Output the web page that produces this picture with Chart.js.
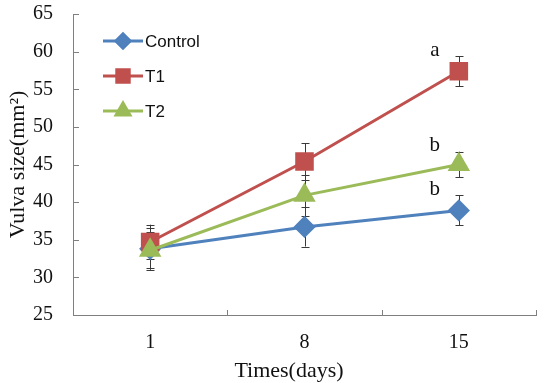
<!DOCTYPE html>
<html>
<head>
<meta charset="utf-8">
<script src="https://cdn.jsdelivr.net/npm/chart.js@4/dist/chart.umd.min.js"></script>
<style>
  html, body { margin: 0; padding: 0; background: #fff; }
  #wrap { width: 550px; height: 383px; }
</style>
</head>
<body>
<div id="wrap"><canvas id="vulvachart"></canvas></div>
<script>
// days of measurement
const days = ['1', '8', '15'];

// mean vulva size (mm2) and error per group
const controlMean = [33.8, 36.7, 38.9];
const controlErr = [2.8, 2.6, 2.0];
const t1Mean = [34.7, 45.4, 57.4];
const t1Err = [2.3, 2.4, 2.0];
const t2Mean = [33.6, 40.9, 45.0];
const t2Err = [2.4, 2.7, 1.7];

// significance letters at last day (Control, T1, T2)
const lastDayLetters = ['b', 'a', 'b'];

const yTicks = [25, 30, 35, 40, 45, 50, 55, 60, 65];

const serif = '"Liberation Serif", "Times New Roman", serif';
const axisColor = '#7f7f7f';

// error bars, drawn under the markers
const errorBars = {
    id: 'errorBars',
    beforeDatasetsDraw(chart) {
        const ctx = chart.ctx;
        const y = chart.scales.y;
        ctx.save();
        ctx.strokeStyle = '#3a3a3a';
        ctx.lineWidth = 1;
        chart.data.datasets.forEach(function (ds, di) {
            const meta = chart.getDatasetMeta(di);
            meta.data.forEach(function (pt, i) {
                const top = y.getPixelForValue(ds.data[i] + ds.err[i]);
                const bot = y.getPixelForValue(ds.data[i] - ds.err[i]);
                const x = Math.round(pt.x) + 0.5;
                ctx.beginPath();
                ctx.moveTo(x, top);
                ctx.lineTo(x, bot);
                ctx.moveTo(x - 4, Math.round(top) + 0.5);
                ctx.lineTo(x + 4, Math.round(top) + 0.5);
                ctx.moveTo(x - 4, Math.round(bot) + 0.5);
                ctx.lineTo(x + 4, Math.round(bot) + 0.5);
                ctx.stroke();
            });
        });
        ctx.restore();
    }
};

// inward tick marks, letters, legend, x title
const extras = {
    id: 'extras',
    afterDraw(chart) {
        const ctx = chart.ctx;
        const xs = chart.scales.x;
        const ys = chart.scales.y;
        const area = chart.chartArea;
        ctx.save();

        ctx.strokeStyle = axisColor;
        ctx.lineWidth = 1;
        ctx.beginPath();
        ys.ticks.forEach(function (t) {
            const py = Math.round(ys.getPixelForValue(t.value)) + 0.5;
            ctx.moveTo(area.left, py);
            ctx.lineTo(area.left + 6, py);
        });
        for (let i = 0; i <= days.length; i++) {
            const px = Math.round(xs.getPixelForValue(i - 0.5)) + 0.5;
            ctx.moveTo(px, area.bottom);
            ctx.lineTo(px, area.bottom - 5);
        }
        ctx.stroke();

        // letters above the last error bar
        ctx.fillStyle = '#111';
        ctx.font = '21px ' + serif;
        ctx.textAlign = 'center';
        ctx.textBaseline = 'middle';
        const last = days.length - 1;
        chart.data.datasets.forEach(function (ds, di) {
            const pt = chart.getDatasetMeta(di).data[last];
            const py = ys.getPixelForValue(ds.data[last] + ds.err[last]);
            ctx.fillText(lastDayLetters[di], pt.x - 24, py - 6);
        });

        // legend
        ctx.font = '17px "Liberation Sans", Arial, sans-serif';
        ctx.textAlign = 'left';
        chart.data.datasets.forEach(function (ds, di) {
            const ly = 41 + di * 35;
            ctx.strokeStyle = ds.borderColor;
            ctx.lineWidth = 3;
            ctx.beginPath();
            ctx.moveTo(103, ly);
            ctx.lineTo(143, ly);
            ctx.stroke();
            Chart.helpers.drawPoint(ctx, {
                pointStyle: ds.pointStyle,
                radius: ds.pointRadius * 0.8,
                rotation: 0,
                borderWidth: 1
            }, 123, ly);
            ctx.fillStyle = ds.backgroundColor;
            ctx.strokeStyle = ds.backgroundColor;
            ctx.fill();
            ctx.fillStyle = '#111';
            ctx.fillText(ds.label, 145, ly + 1);
        });

        // x axis title
        ctx.font = '22px ' + serif;
        ctx.textAlign = 'center';
        ctx.fillText('Times(days)', 289, 371);
        ctx.restore();
    }
};

new Chart(document.getElementById('vulvachart'), {
    type: 'line',
    data: {
        labels: days,
        datasets: [{
            label: 'Control',
            data: controlMean,
            err: controlErr,
            borderColor: '#4f81bd',
            backgroundColor: '#4f81bd',
            pointStyle: 'rectRot',
            pointRadius: 9,
            borderWidth: 3,
            order: 3
        },
        {
            label: 'T1',
            data: t1Mean,
            err: t1Err,
            borderColor: '#c0504d',
            backgroundColor: '#c0504d',
            pointStyle: 'rect',
            pointRadius: 11,
            borderWidth: 3,
            order: 2
        },
        {
            label: 'T2',
            data: t2Mean,
            err: t2Err,
            borderColor: '#9bbb59',
            backgroundColor: '#9bbb59',
            pointStyle: 'triangle',
            pointRadius: 10,
            borderWidth: 3,
            order: 1
        }]
    },
    options: {
        responsive: true,
        maintainAspectRatio: false,
        animation: false,
        layout: {
            padding: { top: 12, right: 7, bottom: 0, left: 0 }
        },
        plugins: {
            legend: { display: false },
            tooltip: { enabled: false }
        },
        elements: {
            point: { borderWidth: 1, hoverRadius: 9 },
            line: { tension: 0 }
        },
        scales: {
            x: {
                offset: true,
                grid: { display: false, offset: true },
                border: { color: axisColor, width: 1 },
                ticks: {
                    color: '#111',
                    font: { family: serif, size: 20 },
                    padding: 8
                },
                afterFit: function (scale) {
                    scale.height = 68;
                    scale.paddingLeft = 0;
                    scale.paddingRight = 0;
                }
            },
            y: {
                min: 25,
                max: 65,
                afterBuildTicks: function (scale) {
                    scale.ticks = yTicks.map(function (v) { return { value: v }; });
                },
                grid: { display: false },
                border: { color: axisColor, width: 1 },
                ticks: {
                    color: '#111',
                    font: { family: serif, size: 20 },
                    padding: 12
                },
                title: {
                    display: true,
                    text: 'Vulva size(mm²)',
                    color: '#111',
                    font: { family: serif, size: 22 },
                    padding: { top: 5, bottom: 0 }
                },
                afterFit: function (scale) {
                    scale.width = 73;
                    scale.paddingTop = 0;
                    scale.paddingBottom = 0;
                }
            }
        }
    },
    plugins: [errorBars, extras]
});
</script>
</body>
</html>
